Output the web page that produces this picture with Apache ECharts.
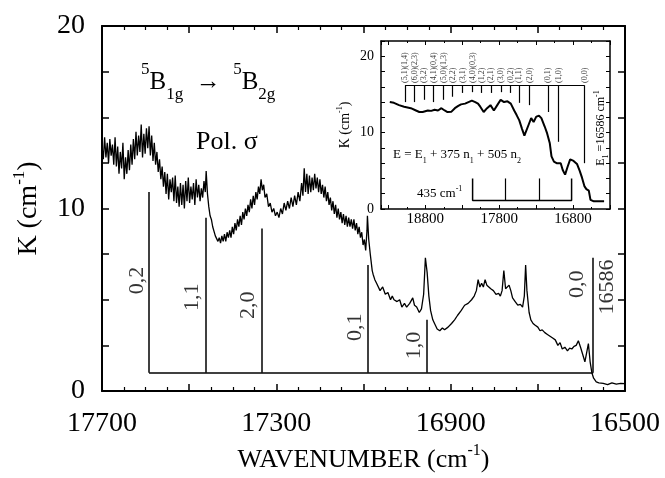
<!DOCTYPE html>
<html>
<head>
<meta charset="utf-8">
<script src="https://cdn.jsdelivr.net/npm/echarts@6/dist/echarts.min.js"></script>
<style>
  html, body { margin: 0; padding: 0; background: #fff; }
  #chart { width: 665px; height: 478px; }
</style>
</head>
<body>
<div id="chart"></div>
<script>
// ---- main spectrum (wavenumber cm-1, K cm-1) ----
const mainSpectrum = [
  [17700, 13.4], [17697, 12.7], [17694, 13.9], [17691, 12.8], [17688, 13.6], [17685, 12.5],
  [17682, 13.8], [17679, 12.9], [17676, 13.5], [17673, 12.4], [17670, 13.9], [17667, 12.3],
  [17664, 13.4], [17661, 11.9], [17658, 13.1], [17655, 12.2], [17652, 13.6], [17649, 11.6],
  [17646, 12.8], [17643, 11.9], [17640, 13.2], [17637, 12.1], [17634, 13.5], [17631, 12.4],
  [17628, 13.8], [17625, 12.7], [17622, 14.2], [17619, 12.9], [17616, 14.0], [17613, 13.1],
  [17610, 14.6], [17607, 12.8], [17604, 14.1], [17601, 13.0], [17598, 14.4], [17595, 13.3],
  [17592, 14.5], [17589, 12.9], [17586, 14.0], [17583, 12.6], [17580, 13.6], [17577, 12.4],
  [17574, 13.1], [17571, 12.0], [17568, 12.7], [17565, 11.6], [17562, 12.3], [17559, 11.2],
  [17556, 12.0], [17553, 10.8], [17550, 11.9], [17547, 10.5], [17544, 11.6], [17541, 10.9],
  [17538, 11.7], [17535, 10.4], [17532, 11.8], [17529, 10.3], [17526, 11.2], [17523, 10.1],
  [17520, 11.4], [17517, 10.2], [17514, 11.3], [17511, 10.0], [17508, 11.5], [17505, 10.4],
  [17502, 11.7], [17499, 10.3], [17496, 11.2], [17493, 10.5], [17490, 11.4], [17487, 10.2],
  [17484, 11.6], [17481, 10.6], [17478, 11.3], [17475, 10.4], [17472, 11.1], [17469, 10.6],
  [17466, 11.5], [17463, 10.9], [17461, 12.05], [17458, 10.8], [17455, 10.1], [17452, 9.6],
  [17449, 9.4], [17446, 9.0], [17443, 8.9], [17440, 8.5], [17437, 8.6], [17434, 8.2],
  [17431, 8.4], [17428, 8.1], [17425, 8.5], [17422, 8.2], [17419, 8.6], [17416, 8.2],
  [17413, 8.7], [17410, 8.4], [17407, 8.8], [17404, 8.4], [17401, 9.0], [17398, 8.6],
  [17395, 9.2], [17392, 8.8], [17389, 9.4], [17386, 9.0], [17383, 9.6], [17380, 9.1],
  [17377, 9.8], [17374, 9.4], [17371, 10.0], [17368, 9.6], [17365, 10.2], [17362, 9.8],
  [17359, 10.5], [17356, 10.0], [17353, 10.7], [17350, 10.2], [17347, 10.9], [17344, 10.5],
  [17341, 11.2], [17338, 10.8], [17335, 11.6], [17332, 11.0], [17329, 11.3], [17326, 10.6],
  [17322, 10.8], [17318, 10.1], [17314, 10.3], [17310, 9.8], [17306, 10.0], [17302, 9.6],
  [17298, 9.8], [17294, 9.5], [17290, 10.0], [17286, 9.7], [17282, 10.3], [17278, 9.9],
  [17274, 10.4], [17270, 10.0], [17266, 10.6], [17262, 10.1], [17258, 10.7], [17254, 10.2],
  [17250, 10.9], [17246, 10.4], [17242, 11.4], [17239, 10.7], [17236, 12.2], [17233, 10.9],
  [17230, 11.9], [17227, 10.8], [17224, 11.8], [17221, 10.9], [17218, 11.7], [17215, 11.0],
  [17212, 11.9], [17209, 11.1], [17206, 11.7], [17203, 10.9], [17200, 11.6], [17197, 10.8],
  [17194, 11.3], [17191, 10.6], [17188, 11.2], [17185, 10.4], [17182, 10.9], [17179, 10.2],
  [17176, 10.6], [17173, 9.9], [17170, 10.4], [17167, 9.7], [17164, 10.2], [17161, 9.5],
  [17158, 10.0], [17155, 9.4], [17152, 9.8], [17149, 9.2], [17146, 9.7], [17143, 9.1],
  [17140, 9.6], [17137, 9.0], [17134, 9.5], [17131, 9.0], [17128, 9.4], [17125, 8.9],
  [17122, 9.4], [17119, 8.8], [17116, 9.2], [17113, 8.6], [17110, 9.0], [17107, 8.4],
  [17104, 8.7], [17101, 8.0], [17098, 8.3], [17095, 7.7], [17092, 8.8], [17091, 9.6],
  [17088, 8.3], [17084, 7.4], [17080, 6.6], [17078, 6.4], [17074, 6.1], [17070, 5.9],
  [17066, 5.8], [17062, 5.5], [17056, 5.7], [17050, 5.3], [17044, 5.4], [17038, 5.0],
  [17034, 5.2], [17030, 5.0], [17023, 4.9], [17017, 5.0], [17012, 4.6], [17006, 4.8],
  [17001, 4.6], [16994, 4.8], [16987, 5.1], [16983, 4.7], [16978, 4.6], [16972, 4.3],
  [16967, 4.5], [16962, 5.3], [16958, 7.3], [16954, 6.5], [16950, 5.2], [16946, 4.4],
  [16941, 3.9], [16937, 3.7], [16931, 3.4], [16925, 3.3], [16919, 3.45], [16914, 3.35],
  [16906, 3.5], [16898, 3.7], [16891, 3.9], [16884, 4.15], [16876, 4.4], [16868, 4.7],
  [16860, 4.8], [16852, 5.0], [16846, 5.2], [16841, 5.5], [16837, 6.1], [16833, 5.7],
  [16829, 5.9], [16825, 5.7], [16821, 6.1], [16817, 5.8], [16813, 5.9], [16808, 5.6],
  [16802, 5.5], [16796, 5.3], [16790, 5.35], [16786, 5.2], [16782, 5.5], [16778, 6.6],
  [16774, 5.6], [16770, 5.5], [16766, 5.8], [16762, 5.5], [16758, 5.1], [16752, 4.9],
  [16746, 4.7], [16740, 4.75], [16735, 4.6], [16731, 5.2], [16728, 6.9], [16725, 5.5],
  [16720, 4.3], [16716, 3.9], [16711, 3.7], [16706, 3.6], [16700, 3.5], [16695, 3.3],
  [16690, 3.35], [16684, 3.2], [16678, 3.1], [16672, 3.0], [16666, 2.9], [16660, 2.8],
  [16654, 2.5], [16649, 2.65], [16644, 2.3], [16638, 2.4], [16632, 2.2], [16627, 2.35],
  [16622, 2.3], [16617, 2.45], [16612, 2.5], [16607, 2.75], [16602, 2.4], [16597, 2.0],
  [16592, 1.6], [16588, 1.5], [16584, 2.6], [16580, 1.6], [16576, 1.0], [16572, 0.7],
  [16566, 0.5], [16560, 0.45], [16550, 0.42], [16540, 0.35], [16530, 0.45], [16520, 0.38],
  [16510, 0.42], [16500, 0.4]
]

// vibronic assignment sticks in the main panel
const stickPos = [17592, 17461, 17333, 17090, 16954, 16573]
const stickTop = [10.9, 9.5, 8.9, 6.9, 3.9, 7.3]
const stickBase = 1
const stickLabels = ['0,2', '1,1', '2,0', '0,1', '1,0', '0,0', '16586']
const stickLabelX = [17620, 17493, 17365, 17119, 16984, 16610, 16541]
const stickLabelY = [6.05, 5.14, 4.7, 3.5, 2.5, 5.85, 5.7]

// ---- inset spectrum ----
const insetSpectrum = [
  [19281, 14.0], [19225, 13.9], [19156, 13.6], [19087, 13.4], [18996, 13.2], [18927, 12.9],
  [18881, 12.7], [18836, 12.7], [18766, 12.9], [18720, 12.85], [18675, 13.0], [18628, 12.9],
  [18582, 13.2], [18538, 12.9], [18500, 12.7], [18446, 12.75], [18400, 13.2], [18354, 13.5],
  [18317, 13.7], [18262, 13.8], [18216, 14.0], [18170, 14.2], [18124, 14.0], [18087, 13.8],
  [18056, 13.4], [18010, 12.7], [17964, 13.2], [17918, 13.6], [17872, 12.9], [17826, 13.6],
  [17780, 14.3], [17734, 14.0], [17688, 14.1], [17643, 13.8], [17597, 12.9], [17564, 12.3],
  [17528, 11.6], [17491, 10.5], [17459, 9.6], [17436, 9.8], [17399, 11.1], [17367, 11.9],
  [17334, 11.4], [17298, 12.1], [17261, 12.2], [17229, 11.9], [17184, 10.8], [17151, 9.9],
  [17115, 8.6], [17092, 6.9], [17059, 6.2], [17023, 6.0], [17000, 5.8], [16967, 6.0],
  [16940, 5.1], [16908, 4.5], [16875, 5.5], [16839, 6.5], [16793, 6.3], [16747, 5.9],
  [16710, 5.0], [16679, 4.1], [16647, 3.0], [16620, 2.6], [16587, 2.4], [16564, 1.2],
  [16518, 1.0], [16380, 1.0]
]

const combPos = [19075, 18947, 18818, 18689, 18554, 18432, 18297, 18161, 18040,
  17911, 17776, 17647, 17532, 17390, 17139, 16997, 16645]
const combBottom = [14.0, 14.0, 14.3, 14.0, 14.3, 14.7, 15.2, 15.3, 15.2,
  15.2, 15.3, 15.2, 13.9, 13.6, 12.7, 8.8, 6.0]
const combTop = 16.2
const combLabels = ['(5,1)(1,4)', '(6,0)(2,3)', '(3,2)', '(4,1)(0,4)', '(5,0)(1,3)', '(2,2)',
  '(3,1)', '(4,0)(0,3)', '(1,2)', '(2,1)', '(3,0)', '(0,2)', '(1,1)', '(2,0)', '(0,1)', '(1,0)', '(0,0)']

// 435 cm-1 progression bracket in the inset
const bracketPos = [18160, 17720, 17260, 16820]
const bracketTop = 4.0
const bracketBase = 1.1

const SERIF = '"Liberation Serif", "Times New Roman", serif'

const chart = echarts.init(document.getElementById('chart'))

const frameAxis = (extra) => Object.assign({
  type: 'value',
  axisLine: { show: true, onZero: false, lineStyle: { color: '#000', width: 2 } },
  axisTick: { show: true, inside: true, length: 7, lineStyle: { color: '#000', width: 1.5 } },
  splitLine: { show: false },
  axisLabel: { show: false }
}, extra)

const insetLine = { show: true, onZero: false, lineStyle: { color: '#000', width: 1.5 } }
const insetTick = { show: true, inside: true, length: 4, lineStyle: { color: '#000', width: 1 } }
const insetMinor = { show: true, splitNumber: 2, length: 2, lineStyle: { color: '#000', width: 1 } }
const mainMinor = { show: true, splitNumber: 4, length: 4, lineStyle: { color: '#000', width: 1.2 } }

const mainXLabel = {
  show: true, margin: 19, color: '#000', fontFamily: SERIF, fontSize: 28,
  formatter: v => ((v - 16500) % 400 === 0 ? String(v) : '')
}
const mainYLabel = {
  show: true, margin: 17, color: '#000', fontFamily: SERIF, fontSize: 28,
  formatter: v => (v % 10 === 0 ? String(v) : '')
}
const insetXLabel = {
  show: true, margin: 3, color: '#000', fontFamily: SERIF, fontSize: 15,
  formatter: v => ((v - 16800) % 1000 === 0 ? String(v) : '')
}
const insetYLabel = {
  show: true, margin: 7, color: '#000', fontFamily: SERIF, fontSize: 14,
  formatter: v => (v % 10 === 0 ? String(v) : '')
}

const supRich = (size) => ({
  b: { fontFamily: SERIF, fontSize: size, lineHeight: Math.round(size * 1.3), color: '#000' },
  s: { fontFamily: SERIF, fontSize: Math.round(size * 0.6), lineHeight: Math.round(size * 0.6), verticalAlign: 'top', color: '#000' }
})

const plainMarkLine = (data, width) => ({
  silent: true, symbol: ['none', 'none'], label: { show: false },
  lineStyle: { color: '#000', width: width, type: 'solid' },
  emphasis: { disabled: true },
  data: data
})

const mainStickLines = stickPos.map((x, i) => [{ coord: [x, stickBase] }, { coord: [x, stickTop[i]] }])
mainStickLines.push([{ coord: [stickPos[0], stickBase] }, { coord: [stickPos[stickPos.length - 1], stickBase] }])

const combLines = combPos.map((x, i) => [{ coord: [x, combTop] }, { coord: [x, combBottom[i]] }])
combLines.push([{ coord: [combPos[0], combTop] }, { coord: [combPos[combPos.length - 1], combTop] }])

// middle bracket sticks as marklines, outer shape as one polyline
const bracketInner = bracketPos.slice(1, -1).map(x => [{ coord: [x, bracketBase] }, { coord: [x, bracketTop] }])
const bracketOuter = [
  [bracketPos[0], bracketTop], [bracketPos[0], bracketBase],
  [bracketPos[bracketPos.length - 1], bracketBase], [bracketPos[bracketPos.length - 1], bracketTop]
]

const option = {
  animation: false,
  backgroundColor: '#fff',
  grid: [
    { left: 102, right: 40, top: 26, bottom: 83 },
    { left: 381, right: 55, top: 41, bottom: 269, show: true, backgroundColor: '#fff', borderWidth: 0, z: 5 }
  ],
  xAxis: [
    frameAxis({
      gridIndex: 0, min: 16500, max: 17700, interval: 200, inverse: true,
      minorTick: mainMinor,
      axisLabel: mainXLabel,
      name: '{b|WAVENUMBER (cm}{s|-1}{b|)}',
      nameLocation: 'middle', nameGap: 52,
      nameTextStyle: { rich: supRich(26) }
    }),
    frameAxis({
      gridIndex: 0, position: 'top', min: 16500, max: 17700, interval: 200, inverse: true,
      minorTick: mainMinor
    }),
    frameAxis({
      gridIndex: 1, min: 16300, max: 19400, interval: 500, inverse: true, z: 6,
      axisLine: insetLine, axisTick: insetTick, minorTick: insetMinor,
      axisLabel: insetXLabel
    }),
    frameAxis({
      gridIndex: 1, position: 'top', min: 16300, max: 19400, interval: 500, inverse: true, z: 6,
      axisLine: insetLine, axisTick: insetTick, minorTick: insetMinor
    })
  ],
  yAxis: [
    frameAxis({
      gridIndex: 0, min: 0, max: 20, interval: 2.5,
      axisLabel: mainYLabel,
      name: '{b|K (cm}{s|-1}{b|)}',
      nameLocation: 'middle', nameGap: 55, nameRotate: 90,
      nameTextStyle: { rich: supRich(28) }
    }),
    frameAxis({ gridIndex: 0, position: 'right', min: 0, max: 20, interval: 2.5 }),
    frameAxis({
      gridIndex: 1, min: 0, max: 22, interval: 2, z: 6,
      axisLine: insetLine, axisTick: insetTick,
      axisLabel: insetYLabel,
      name: '{b|K (cm}{s|-1}{b|)}',
      nameLocation: 'middle', nameGap: 27, nameRotate: 90,
      nameTextStyle: { rich: supRich(14) }
    }),
    frameAxis({
      gridIndex: 1, position: 'right', min: 0, max: 22, interval: 2, z: 6,
      axisLine: insetLine, axisTick: insetTick
    })
  ],
  series: [
    {
      name: 'main',
      type: 'line', xAxisIndex: 0, yAxisIndex: 0,
      data: mainSpectrum, showSymbol: false, symbol: 'none',
      lineStyle: { color: '#000', width: 1.3 }
    },
    {
      name: 'assignments',
      type: 'scatter', xAxisIndex: 0, yAxisIndex: 0, symbolSize: 0,
      data: stickLabels.map((t, i) => [stickLabelX[i], stickLabelY[i], t]),
      label: {
        show: true, position: 'inside', rotate: 90, align: 'center', verticalAlign: 'middle',
        fontFamily: SERIF, fontSize: 22, color: '#000',
        formatter: p => p.data[2]
      },
      markLine: plainMarkLine(mainStickLines, 1.5)
    },
    {
      name: 'inset',
      type: 'line', xAxisIndex: 2, yAxisIndex: 2, z: 7,
      data: insetSpectrum, showSymbol: false, symbol: 'none',
      lineStyle: { color: '#000', width: 2 }
    },
    {
      name: 'comb',
      type: 'scatter', xAxisIndex: 2, yAxisIndex: 2, symbolSize: 0, z: 7,
      data: combLabels.map((t, i) => [combPos[i], combTop + 0.3, t]),
      label: {
        show: true, position: 'inside', rotate: 90, align: 'left', verticalAlign: 'middle',
        fontFamily: SERIF, fontSize: 8, color: '#000',
        formatter: p => p.data[2]
      },
      markLine: plainMarkLine(combLines.concat(bracketInner), 1.2)
    },
    {
      name: 'bracket',
      type: 'line', xAxisIndex: 2, yAxisIndex: 2, z: 8,
      data: bracketOuter,
      showSymbol: false, symbol: 'none',
      lineStyle: { color: '#000', width: 1.5 }
    }
  ],
  graphic: [
    {
      type: 'text', x: 141, y: 82, z: 10,
      style: {
        text: '{s|5}{b|B}{u|1g}{b|  \u2192  }{s|5}{b|B}{u|2g}',
        verticalAlign: 'middle', align: 'left',
        rich: {
          b: { fontFamily: SERIF, fontSize: 25, lineHeight: 42, color: '#000' },
          s: { fontFamily: SERIF, fontSize: 17, lineHeight: 18, verticalAlign: 'top', color: '#000' },
          u: { fontFamily: SERIF, fontSize: 17, lineHeight: 18, verticalAlign: 'bottom', color: '#000' }
        }
      }
    },
    {
      type: 'text', x: 196, y: 142, z: 10,
      style: { text: 'Pol. \u03c3', fontFamily: SERIF, fontSize: 26, fill: '#000', verticalAlign: 'middle' }
    },
    {
      type: 'text', x: 393, y: 155, z: 10,
      style: {
        text: '{b|E = E}{u|1}{b| + 375 n}{u|1}{b| + 505 n}{u|2}',
        verticalAlign: 'middle', align: 'left',
        rich: {
          b: { fontFamily: SERIF, fontSize: 13, lineHeight: 20, color: '#000' },
          u: { fontFamily: SERIF, fontSize: 8, lineHeight: 9, verticalAlign: 'bottom', color: '#000' }
        }
      }
    },
    {
      type: 'text', x: 417, y: 194, z: 10,
      style: {
        text: '{b|435 cm}{s|-1}',
        verticalAlign: 'middle', align: 'left',
        rich: {
          b: { fontFamily: SERIF, fontSize: 13, lineHeight: 18, color: '#000' },
          s: { fontFamily: SERIF, fontSize: 8, lineHeight: 8, verticalAlign: 'top', color: '#000' }
        }
      }
    },
    {
      type: 'text', x: 601, y: 128, z: 10, rotation: Math.PI / 2,
      style: {
        text: '{b|E}{u|1}{b| =16586 cm}{s|-1}',
        verticalAlign: 'middle', align: 'center',
        rich: {
          b: { fontFamily: SERIF, fontSize: 12, lineHeight: 17, color: '#000' },
          u: { fontFamily: SERIF, fontSize: 8, lineHeight: 8, verticalAlign: 'bottom', color: '#000' },
          s: { fontFamily: SERIF, fontSize: 8, lineHeight: 8, verticalAlign: 'top', color: '#000' }
        }
      }
    }
  ]
}

chart.setOption(option)
</script>
</body>
</html>
